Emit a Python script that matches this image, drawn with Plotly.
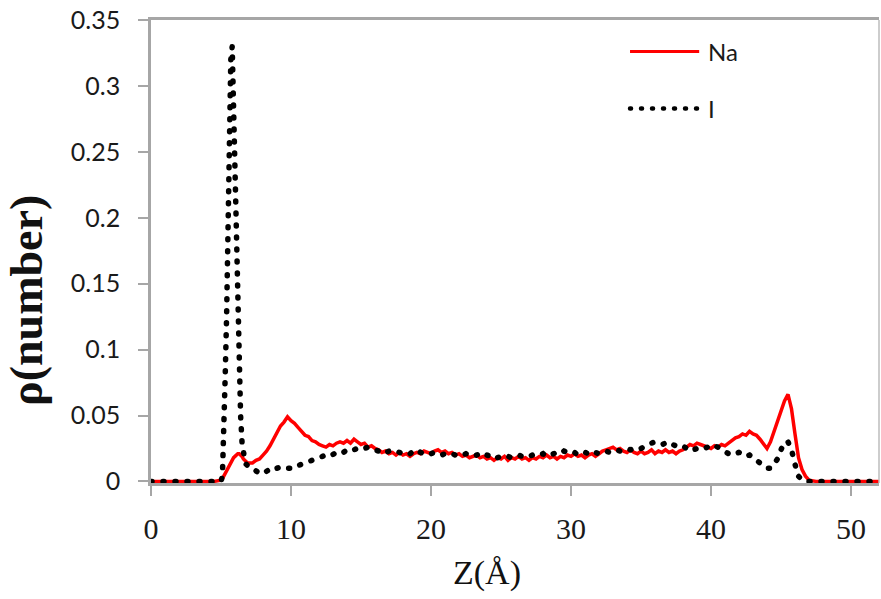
import numpy as np
import plotly.graph_objects as go

# Sampling grid along Z (Å): coarse in the empty regions, fine across the I peak
z_head = [0.0, 0.5, 1.0, 1.5, 2.0, 2.5, 3.0, 3.5, 4.0, 4.5]
z_peak = [5.0, 5.1, 5.2, 5.3, 5.4, 5.5, 5.6, 5.7, 5.8, 5.9, 6.0,
          6.1, 6.2, 6.3, 6.4, 6.5, 6.6, 6.7, 6.8, 6.9, 7.0]
z_body = list(np.round(np.arange(7.25, 47.01, 0.25), 2))
z_tail = [47.5, 48.0, 48.5, 49.0, 49.5, 50.0, 50.5, 51.0, 51.5, 52.0]

# Na number density
na_head = [0.0] * 10
na_peak = [0.001, 0.002, 0.004, 0.006, 0.008, 0.010, 0.013, 0.015, 0.016, 0.018, 0.019,
           0.020, 0.021, 0.021, 0.020, 0.019, 0.017, 0.016, 0.015, 0.014, 0.014]
na_body = [
    0.014, 0.016, 0.017, 0.020, 0.023, 0.027, 0.032, 0.037,
    0.042, 0.045, 0.049, 0.046, 0.044, 0.041, 0.038, 0.035,
    0.034, 0.031, 0.030, 0.028, 0.027, 0.026, 0.028, 0.027,
    0.029, 0.030, 0.029, 0.031, 0.029, 0.032, 0.030, 0.028,
    0.029, 0.026, 0.027, 0.025, 0.024, 0.022, 0.023, 0.021,
    0.022, 0.020, 0.022, 0.020, 0.021, 0.019, 0.021, 0.022,
    0.021, 0.023, 0.022, 0.021, 0.023, 0.024, 0.022, 0.023,
    0.021, 0.022, 0.020, 0.021, 0.019, 0.020, 0.018, 0.019,
    0.020, 0.018, 0.019, 0.017, 0.018, 0.016, 0.018, 0.017,
    0.019, 0.016, 0.018, 0.017, 0.019, 0.017, 0.018, 0.016,
    0.018, 0.017, 0.019, 0.018, 0.020, 0.018, 0.019, 0.017,
    0.019, 0.018, 0.020, 0.019, 0.021, 0.019, 0.020, 0.018,
    0.020, 0.021, 0.019, 0.021, 0.023, 0.024, 0.025, 0.026,
    0.024, 0.025, 0.023, 0.022, 0.024, 0.022, 0.021, 0.023,
    0.021, 0.022, 0.024, 0.021, 0.023, 0.022, 0.024, 0.022,
    0.023, 0.021, 0.023, 0.024, 0.026, 0.028, 0.027, 0.029,
    0.028, 0.027, 0.026, 0.025, 0.027, 0.026, 0.028, 0.027,
    0.029, 0.031, 0.033, 0.034, 0.036, 0.035, 0.038, 0.036,
    0.035, 0.032, 0.029, 0.025, 0.030, 0.038, 0.046, 0.054,
    0.061, 0.066, 0.055, 0.036, 0.018, 0.009, 0.004, 0.001,
]
na_tail = [0.0] * 10

# I number density
i_head = [0.0] * 10
i_peak = [0.0, 0.004, 0.030, 0.080, 0.125, 0.185, 0.270, 0.320, 0.330, 0.280, 0.230,
          0.170, 0.120, 0.080, 0.050, 0.030, 0.020, 0.016, 0.013, 0.012, 0.011]
i_body = [
    0.010, 0.008, 0.006, 0.006, 0.008, 0.010, 0.011, 0.010,
    0.011, 0.010, 0.010, 0.011, 0.010, 0.012, 0.013, 0.014,
    0.015, 0.016, 0.017, 0.018, 0.019, 0.020, 0.019, 0.021,
    0.022, 0.023, 0.022, 0.024, 0.023, 0.024, 0.025, 0.024,
    0.025, 0.026, 0.025, 0.024, 0.023, 0.024, 0.022, 0.023,
    0.022, 0.023, 0.022, 0.021, 0.022, 0.021, 0.023, 0.024,
    0.022, 0.021, 0.022, 0.021, 0.022, 0.021, 0.020, 0.021,
    0.022, 0.021, 0.020, 0.021, 0.020, 0.021, 0.020, 0.019,
    0.020, 0.021, 0.019, 0.020, 0.019, 0.020, 0.018, 0.019,
    0.018, 0.019, 0.018, 0.019, 0.020, 0.019, 0.020, 0.019,
    0.020, 0.021, 0.020, 0.021, 0.019, 0.020, 0.021, 0.022,
    0.021, 0.023, 0.022, 0.021, 0.022, 0.020, 0.021, 0.022,
    0.021, 0.020, 0.022, 0.021, 0.022, 0.023, 0.022, 0.023,
    0.024, 0.023, 0.024, 0.025, 0.024, 0.025, 0.026, 0.025,
    0.027, 0.028, 0.029, 0.030, 0.029, 0.028, 0.029, 0.027,
    0.028, 0.027, 0.026, 0.027, 0.025, 0.026, 0.024, 0.025,
    0.024, 0.025, 0.026, 0.025, 0.027, 0.026, 0.024, 0.022,
    0.021, 0.020, 0.021, 0.022, 0.021, 0.019, 0.020, 0.018,
    0.016, 0.014, 0.011, 0.010, 0.010, 0.013, 0.017, 0.024,
    0.030, 0.030, 0.024, 0.013, 0.004, 0.001, 0.000, 0.000,
]
i_tail = [0.0] * 10

z = z_head + z_peak + z_body + z_tail
rho_na = na_head + na_peak + na_body + na_tail
rho_i = i_head + i_peak + i_body + i_tail

x_ticks = [0, 10, 20, 30, 40, 50]
y_ticks = [0, 0.05, 0.1, 0.15, 0.2, 0.25, 0.3, 0.35]
y_ticklabels = ["0", "0.05", "0.1", "0.15", "0.2", "0.25", "0.3", "0.35"]

AXIS_GREY = "#a6a6a6"

fig = go.Figure()
fig.add_trace(go.Scatter(x=z, y=rho_na, mode="lines", name="Na",
                         line=dict(color="#ff0000", width=3.5), showlegend=False))
fig.add_trace(go.Scatter(x=z, y=rho_i, mode="lines", name="I",
                         line=dict(color="#000000", width=5.5, dash="1px,11px"),
                         showlegend=False))

# Hand-placed legend (long sample lines)
legend_items = [("Na", 0.932, dict(color="#ff0000", width=3)),
                ("I", 0.809, dict(color="#000000", width=4.5, dash="1px,10px"))]
for label, yp, ln in legend_items:
    fig.add_shape(type="line", xref="paper", yref="paper",
                  x0=0.658, x1=0.753, y0=yp, y1=yp, line=ln)
    fig.add_annotation(text=label, xref="paper", yref="paper", x=0.763, y=yp,
                       xanchor="left", yanchor="middle", showarrow=False,
                       font=dict(family="Lato", size=24, color="#1a1a1a"))

# Thin right-hand frame edge
fig.add_shape(type="line", xref="paper", yref="paper", x0=1, x1=1, y0=0, y1=1,
              line=dict(color="#bdbdbd", width=1.5))

fig.add_annotation(text="Z(Å)", xref="paper", yref="paper", x=0.462, y=-0.195,
                   xanchor="center", yanchor="middle", showarrow=False,
                   font=dict(family="Liberation Serif", size=34, color="#111"))
fig.add_annotation(text="<b>ρ(number)</b>", xref="paper", yref="paper",
                   x=-0.172, y=0.395, xanchor="center", yanchor="middle",
                   textangle=-90, showarrow=False,
                   font=dict(family="Liberation Serif", size=46, color="#111"))

fig.update_layout(
    width=881, height=599,
    margin=dict(l=151, r=2, t=20, b=116),
    plot_bgcolor="white", paper_bgcolor="white",
    xaxis=dict(range=[0, 52], tickvals=x_ticks, ticks="outside", ticklen=10,
               tickwidth=1.5, tickcolor=AXIS_GREY, showline=True, mirror=True,
               linecolor=AXIS_GREY, linewidth=2.5, showgrid=False, zeroline=False,
               layer="below traces", ticklabelstandoff=7,
               tickfont=dict(family="Liberation Serif", size=30, color="#1a1a1a")),
    yaxis=dict(range=[-0.0012, 0.35], tickvals=y_ticks, ticktext=y_ticklabels,
               ticks="outside", ticklen=10, tickwidth=1.5, tickcolor=AXIS_GREY,
               showline=True, linecolor=AXIS_GREY, linewidth=2.5, showgrid=False,
               zeroline=False, layer="below traces", ticklabelstandoff=13,
               tickfont=dict(family="Lato", size=25, color="#1a1a1a")),
)

# Round line caps turn the sparse dash pattern of the I curve into round dots
round_dots = """
var gd = document.getElementById('{plot_id}');
function roundDots() {
  gd.querySelectorAll('.scatterlayer .trace:nth-child(2) path.js-line, .shapelayer path')
    .forEach(function (p) {
      if (p.style.strokeDasharray && p.style.strokeDasharray !== 'none') {
        p.style.strokeLinecap = 'round';
      }
    });
}
roundDots();
gd.on('plotly_afterplot', roundDots);
"""

fig.write_html("out.html", post_script=round_dots)
